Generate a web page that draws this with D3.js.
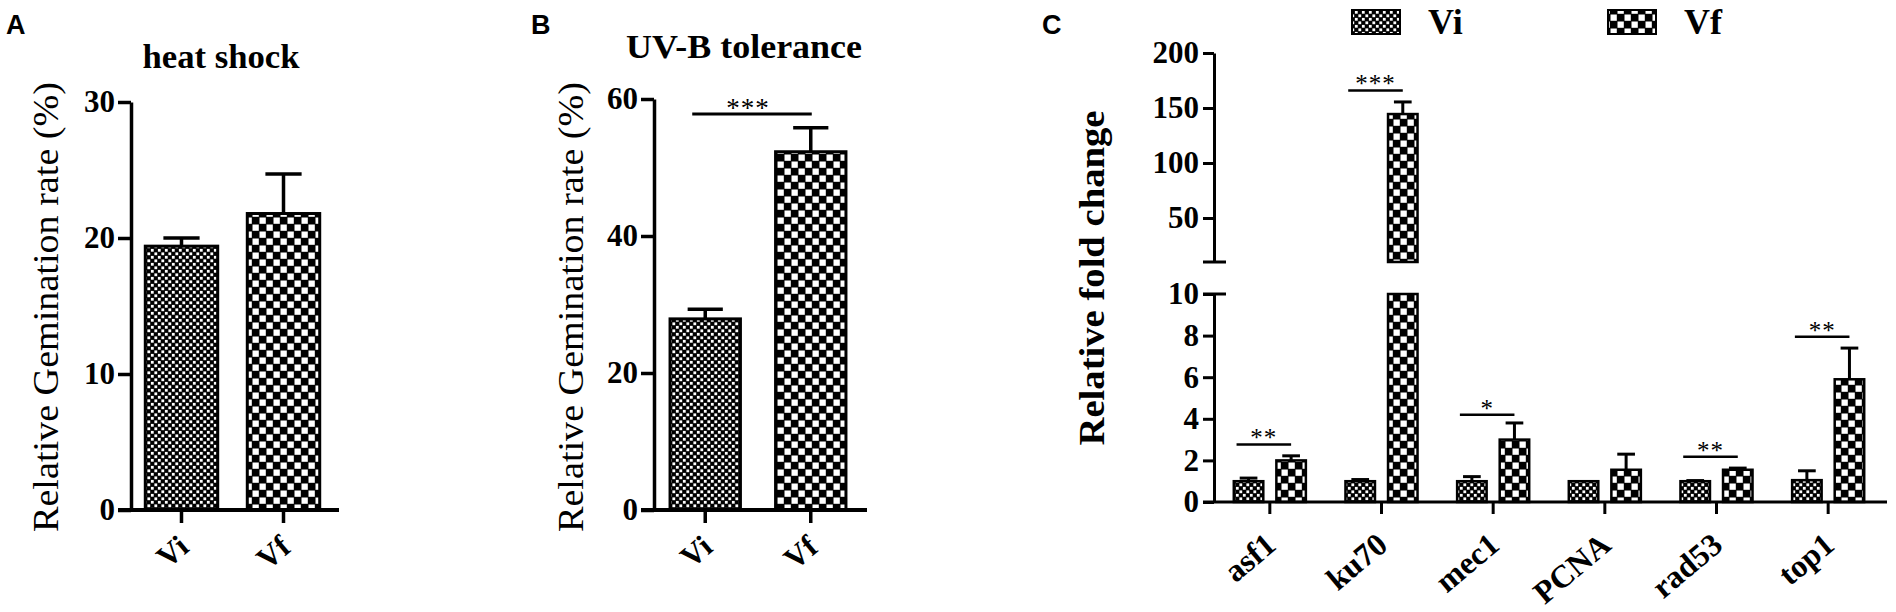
<!DOCTYPE html>
<html>
<head>
<meta charset="utf-8">
<script src="https://cdn.jsdelivr.net/npm/d3@7"></script>
<style>
body { margin: 0; background: #fff; }
text { font-family: "Liberation Serif", "Times New Roman", serif; fill: #000; }
.tag { font-family: "Liberation Sans", Arial, sans-serif; font-weight: bold; font-size: 27px; }
</style>
</head>
<body>
<div id="chart"></div>
<script>
// panel A - heat shock
var groupsAB = ["Vi", "Vf"];
var heatMean = [19.4, 21.8];
var heatErr = [0.6, 2.9];
var heatTicks = [0, 10, 20, 30];

// panel B - UV-B tolerance
var uvMean = [27.9, 52.3];
var uvErr = [1.4, 3.5];
var uvTicks = [0, 20, 40, 60];
var uvSigLabel = "***";
var uvSigValue = 57.8;

// panel C - relative fold change, broken y axis
var genes = ["asf1", "ku70", "mec1", "PCNA", "rad53", "top1"];
var series = ["Vi", "Vf"];
var viMean = [1.0, 1.0, 1.0, 1.0, 1.0, 1.05];
var viErr = [0.15, 0.08, 0.22, 0, 0.03, 0.45];
var vfMean = [2.0, 144.5, 3.0, 1.55, 1.55, 5.9];
var vfErr = [0.22, 11, 0.8, 0.75, 0.08, 1.5];
var sigLabels = ["**", "***", "*", "", "**", "**"];
var sigValues = [2.77, 166, 4.2, null, 2.18, 7.95];
var lowTicks = [0, 2, 4, 6, 8, 10];
var highTicks = [50, 100, 150, 200];

var w = 1896, h = 612;
var svg = d3.select("#chart").append("svg")
    .attr("width", w)
    .attr("height", h)
    .style("background-color", "white");

// fill patterns
var defs = svg.append("defs");
var pVi = defs.append("pattern").attr("id", "pVi")
    .attr("patternUnits", "userSpaceOnUse").attr("width", 7).attr("height", 7);
pVi.append("rect").attr("width", 7).attr("height", 7).attr("fill", "#000");
pVi.append("rect").attr("x", 0.4).attr("y", 0.4).attr("width", 2.8).attr("height", 2.8).attr("fill", "#fff");
pVi.append("rect").attr("x", 3.9).attr("y", 3.9).attr("width", 2.8).attr("height", 2.8).attr("fill", "#fff");

var pVf = defs.append("pattern").attr("id", "pVf")
    .attr("patternUnits", "userSpaceOnUse").attr("width", 14).attr("height", 14);
pVf.append("rect").attr("width", 14).attr("height", 14).attr("fill", "#000");
pVf.append("rect").attr("x", 0.5).attr("y", 0.5).attr("width", 6.3).attr("height", 6.3).attr("fill", "#fff");
pVf.append("rect").attr("x", 7.5).attr("y", 7.5).attr("width", 6.3).attr("height", 6.3).attr("fill", "#fff");

var fills = {Vi: "url(#pVi)", Vf: "url(#pVf)"};

function styleAxis(g, size, sw) {
    g.attr("font-family", "Liberation Serif, Times New Roman, serif")
     .attr("font-weight", "bold")
     .attr("font-size", size);
    g.selectAll("path, line").attr("stroke", "#000").attr("stroke-width", sw);
}

function errorBar(g, cx, y0, y1, capW, sw) {
    g.append("line").attr("x1", cx).attr("x2", cx).attr("y1", y0).attr("y2", y1)
        .attr("stroke", "#000").attr("stroke-width", sw);
    g.append("line").attr("x1", cx - capW / 2).attr("x2", cx + capW / 2).attr("y1", y1).attr("y2", y1)
        .attr("stroke", "#000").attr("stroke-width", sw);
}

// simple two bar panels (A and B)
function simplePanel(o) {
    var g = svg.append("g");
    var x = d3.scaleBand().domain(groupsAB).range(o.xr).paddingInner(o.pi).paddingOuter(o.po);
    var y = d3.scaleLinear().domain([0, o.ymax]).range([510, o.ytop]);
    var bw = x.bandwidth();

    groupsAB.forEach(function(k, i){
        var cx = x(k) + bw / 2;
        errorBar(g, cx, y(o.mean[i]), y(o.mean[i] + o.err[i]), bw * 0.5, 3.5);
        g.append("rect")
            .attr("x", x(k)).attr("y", y(o.mean[i]))
            .attr("width", bw).attr("height", y(0) - y(o.mean[i]))
            .attr("fill", fills[k]).attr("stroke", "#000").attr("stroke-width", 3);
    });

    var ya = g.append("g").attr("transform", "translate(" + o.xr[0] + ",0)")
        .call(d3.axisLeft(y).tickValues(o.ticks).tickSize(13).tickSizeOuter(0).tickPadding(3));
    styleAxis(ya, 31, 3.5);

    var xa = g.append("g").attr("transform", "translate(0," + y(0) + ")")
        .call(d3.axisBottom(x).tickSize(13).tickSizeOuter(0));
    xa.select(".domain").remove();
    styleAxis(xa, 31, 3.5);
    xa.selectAll(".tick text")
        .attr("x", 0).attr("y", 0).attr("dy", 0)
        .attr("transform", "translate(9,40) rotate(-40)")
        .style("text-anchor", "end");
    g.append("line")
        .attr("x1", o.xr[0] - 13).attr("x2", o.xr[1] + 5)
        .attr("y1", y(0)).attr("y2", y(0))
        .attr("stroke", "#000").attr("stroke-width", 4);

    g.append("text").attr("x", o.titleX).attr("y", o.titleY)
        .attr("text-anchor", "middle").attr("font-weight", "bold").attr("font-size", 33)
        .attr("textLength", o.titleW).attr("lengthAdjust", "spacingAndGlyphs")
        .text(o.title);

    g.append("text")
        .attr("transform", "translate(" + o.labelX + ",307) rotate(-90)")
        .attr("text-anchor", "middle").attr("font-size", 35)
        .attr("textLength", 450).attr("lengthAdjust", "spacingAndGlyphs")
        .text("Relative Gemination rate (%)");

    g.append("text").attr("class", "tag").attr("x", o.tagX).attr("y", 34).text(o.tag);

    if (o.sig) {
        var x1 = x("Vi") + bw / 2 - 13, x2 = x("Vf") + bw / 2 + 1;
        g.append("line").attr("x1", x1).attr("x2", x2)
            .attr("y1", y(o.sigValue)).attr("y2", y(o.sigValue))
            .attr("stroke", "#000").attr("stroke-width", 3);
        g.append("text").attr("x", (x1 + x2) / 2 - 4).attr("y", y(o.sigValue) + 3)
            .attr("text-anchor", "middle").attr("font-size", 27).attr("letter-spacing", 1)
            .text(o.sig);
    }
}

simplePanel({xr: [131, 334], pi: 0.29, po: 0.14, ymax: 30, ytop: 102,
    mean: heatMean, err: heatErr, ticks: heatTicks,
    title: "heat shock", titleX: 221, titleY: 68, titleW: 157,
    labelX: 58, tag: "A", tagX: 6});

simplePanel({xr: [654, 862], pi: 0.333, po: 0.152, ymax: 60, ytop: 99,
    mean: uvMean, err: uvErr, ticks: uvTicks,
    title: "UV-B tolerance", titleX: 744, titleY: 58, titleW: 236,
    labelX: 583, tag: "B", tagX: 531, sig: uvSigLabel, sigValue: uvSigValue});

// panel C
var gc = svg.append("g");
var x0 = d3.scaleBand().domain(genes).range([1214, 1884]).padding(0);
var x1 = d3.scaleBand().domain(series).range([0, x0.bandwidth()]).paddingInner(0.307).paddingOuter(0.465);
var yLow = d3.scaleLinear().domain([0, 10]).range([502, 294]);
var yHigh = d3.scaleLinear().domain([10, 200]).range([262, 53]);
var bw = x1.bandwidth();

function yAny(v) { return v > 10 ? yHigh(v) : yLow(v); }

genes.forEach(function(gene, i){
    [["Vi", viMean[i], viErr[i]], ["Vf", vfMean[i], vfErr[i]]].forEach(function(d){
        var bx = x0(gene) + x1(d[0]);
        var cx = bx + bw / 2;
        if (d[2] > 0) errorBar(gc, cx, yAny(d[1]), yAny(d[1] + d[2]), bw * 0.6, 3);
        if (d[1] > 10) {
            gc.append("rect").attr("x", bx).attr("y", yHigh(d[1]))
                .attr("width", bw).attr("height", yHigh(10) - yHigh(d[1]))
                .attr("fill", fills[d[0]]).attr("stroke", "#000").attr("stroke-width", 2.5);
            gc.append("rect").attr("x", bx).attr("y", yLow(10))
                .attr("width", bw).attr("height", yLow(0) - yLow(10))
                .attr("fill", fills[d[0]]).attr("stroke", "#000").attr("stroke-width", 2.5);
        } else {
            gc.append("rect").attr("x", bx).attr("y", yLow(d[1]))
                .attr("width", bw).attr("height", yLow(0) - yLow(d[1]))
                .attr("fill", fills[d[0]]).attr("stroke", "#000").attr("stroke-width", 2.5);
        }
    });
    if (sigLabels[i]) {
        var sx1 = x0(gene) + x1("Vi") + bw / 2 - 12;
        var sx2 = x0(gene) + x1("Vf") + bw / 2;
        var sy = yAny(sigValues[i]);
        gc.append("line").attr("x1", sx1).attr("x2", sx2).attr("y1", sy).attr("y2", sy)
            .attr("stroke", "#000").attr("stroke-width", 2.5);
        gc.append("text").attr("x", (sx1 + sx2) / 2).attr("y", sy + 2)
            .attr("text-anchor", "middle").attr("font-size", 25).attr("letter-spacing", 1)
            .text(sigLabels[i]);
    }
});

var ah = gc.append("g").attr("transform", "translate(1214,0)")
    .call(d3.axisLeft(yHigh).tickValues(highTicks).tickSize(11).tickSizeOuter(0).tickPadding(4));
styleAxis(ah, 31, 3);
var al = gc.append("g").attr("transform", "translate(1214,0)")
    .call(d3.axisLeft(yLow).tickValues(lowTicks).tickSize(11).tickSizeOuter(0).tickPadding(4));
styleAxis(al, 31, 3);

// break marks
[yHigh(10), yLow(10)].forEach(function(by){
    gc.append("line").attr("x1", 1214 - 11).attr("x2", 1214 + 12).attr("y1", by).attr("y2", by)
        .attr("stroke", "#000").attr("stroke-width", 3);
});

var xc = gc.append("g").attr("transform", "translate(0," + yLow(0) + ")")
    .call(d3.axisBottom(x0).tickSize(12).tickSizeOuter(0));
xc.select(".domain").remove();
styleAxis(xc, 32, 3);
xc.selectAll(".tick text")
    .attr("x", 0).attr("y", 0).attr("dy", 0)
    .attr("transform", "translate(8,46) rotate(-40)")
    .style("text-anchor", "end");
gc.append("line").attr("x1", 1214 - 11).attr("x2", 1887)
    .attr("y1", yLow(0)).attr("y2", yLow(0))
    .attr("stroke", "#000").attr("stroke-width", 3);

gc.append("text")
    .attr("transform", "translate(1104,278) rotate(-90)")
    .attr("text-anchor", "middle").attr("font-weight", "bold").attr("font-size", 35)
    .attr("textLength", 335).attr("lengthAdjust", "spacingAndGlyphs")
    .text("Relative fold change");

gc.append("text").attr("class", "tag").attr("x", 1042).attr("y", 34).text("C");

// legend
var legX = [1352, 1608];
series.forEach(function(s, i){
    gc.append("rect").attr("x", legX[i]).attr("y", 10).attr("width", 48).attr("height", 24)
        .attr("fill", fills[s]).attr("stroke", "#000").attr("stroke-width", 2);
    gc.append("text").attr("x", legX[i] + 76).attr("y", 34)
        .attr("font-weight", "bold").attr("font-size", 36).text(s);
});
</script>
</body>
</html>
